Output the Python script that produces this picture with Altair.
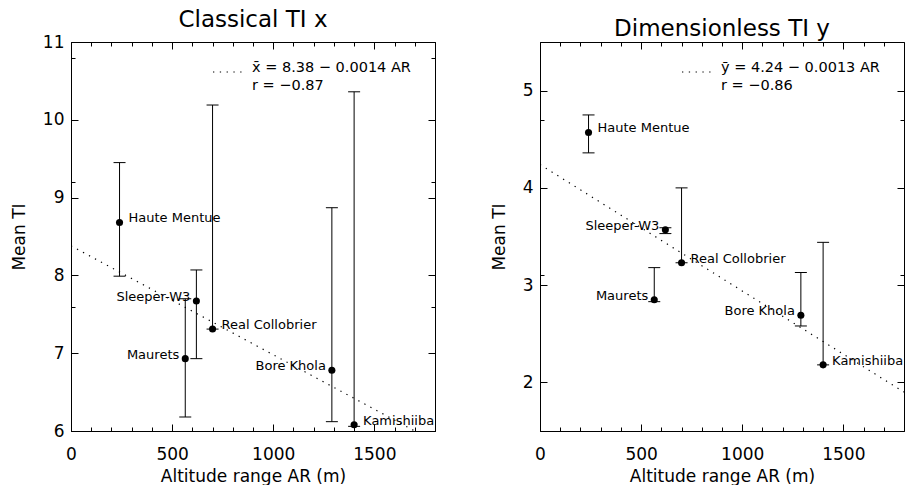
import altair as alt
import pandas as pd

# ---------------- data ----------------
sites = ["Haute Mentue", "Sleeper-W3", "Real Collobrier", "Maurets", "Bore Khola", "Kamishiiba"]
altitude_range = [240, 620, 700, 565, 1290, 1400]
label_side = ["right", "left", "right", "left", "left", "right"]

# Classical TI x : mean with error bar limits
x_mean = [8.68, 7.67, 7.31, 6.93, 6.78, 6.08]
x_low = [7.99, 6.93, 7.31, 6.18, 6.12, 6.06]
x_high = [9.45, 8.07, 10.19, 7.70, 8.87, 10.36]

# Dimensionless TI y : mean with error bar limits
y_mean = [4.57, 3.57, 3.23, 2.85, 2.69, 2.18]
y_low = [4.36, 3.53, 3.23, 2.83, 2.58, 2.18]
y_high = [4.75, 3.59, 4.00, 3.18, 3.13, 3.44]

titles = ["Classical TI x", "Dimensionless TI y"]
fit_intercept = [8.38, 4.24]
fit_slope = [-0.0014, -0.0013]
fit_text = [["x\u0304 = 8.38 \u2212 0.0014 AR", "r = \u22120.87"],
            ["y\u0304 = 4.24 \u2212 0.0013 AR", "r = \u22120.86"]]

x_domain = [0, 1800]
x_major = [0, 500, 1000, 1500]
x_minor_step = 100
y_domains = [[6, 11], [1.5, 5.5]]
y_majors = [[6, 7, 8, 9, 10, 11], [2, 3, 4, 5]]
y_minor_step = [0.1, 0.2]

# ---------------- style ----------------
FONT = "DejaVu Sans"
W, H = 364, 389
MAJ, MIN = 7, 4


def steps(lo, hi, step):
    n = int(round((hi - lo) / step))
    return [round(lo + step * k, 3) for k in range(n + 1)]


def make_axis(orient, values, size, labels=False, title="", pad=7, tpad=8):
    kw = dict(orient=orient, values=values, tickSize=size, offset=-size,
              domain=False, grid=False, ticks=True, labels=labels,
              tickColor="black", tickWidth=1, title=title, zindex=1, format="d")
    if labels:
        kw.update(labelFlush=False, labelPadding=pad, titlePadding=tpad)
    return alt.Axis(**kw)


def panel(i, mean, low, high):
    df = pd.DataFrame({"site": sites, "AR": altitude_range, "side": label_side,
                       "mean": mean, "low": low, "high": high})
    xs = alt.Scale(domain=x_domain, zero=False, nice=False)
    ys = alt.Scale(domain=y_domains[i], zero=False, nice=False)
    x_minor = steps(x_domain[0], x_domain[1], x_minor_step)
    y_minor = steps(y_domains[i][0], y_domains[i][1], y_minor_step[i])
    base = alt.Chart(df)

    pts = base.mark_circle(size=50, color="black", opacity=1).encode(
        x=alt.X("AR:Q", scale=xs,
                axis=make_axis("bottom", x_major, MAJ, True, "Altitude range AR (m)", pad=15, tpad=6)),
        y=alt.Y("mean:Q", scale=ys,
                axis=make_axis("left", y_majors[i], MAJ, True, "Mean TI", pad=7, tpad=14)),
    )
    bars = base.mark_rule(color="black", strokeWidth=1).encode(
        x=alt.X("AR:Q", scale=xs, axis=make_axis("top", x_major, MAJ)),
        y=alt.Y("low:Q", scale=ys, axis=make_axis("right", y_majors[i], MAJ)),
        y2="high:Q",
    )
    caps_hi = base.mark_tick(orient="horizontal", size=12, thickness=1,
                             color="black", opacity=1).encode(
        x=alt.X("AR:Q", scale=xs, axis=make_axis("bottom", x_minor, MIN)),
        y=alt.Y("high:Q", scale=ys, axis=make_axis("left", y_minor, MIN)),
    )
    caps_lo = base.mark_tick(orient="horizontal", size=12, thickness=1,
                             color="black", opacity=1).encode(
        x=alt.X("AR:Q", scale=xs, axis=make_axis("top", x_minor, MIN)),
        y=alt.Y("low:Q", scale=ys, axis=make_axis("right", y_minor, MIN)),
    )
    lab_r = base.transform_filter(alt.datum.side == "right").mark_text(
        align="left", baseline="alphabetic", dx=9, font=FONT, fontSize=13, color="black"
    ).encode(
        x=alt.X("AR:Q", scale=xs, axis=None),
        y=alt.Y("mean:Q", scale=ys, axis=None),
        text="site:N",
    )
    lab_l = base.transform_filter(alt.datum.side == "left").mark_text(
        align="right", baseline="alphabetic", dx=-6, font=FONT, fontSize=13, color="black"
    ).encode(
        x=alt.X("AR:Q", scale=xs, axis=None),
        y=alt.Y("mean:Q", scale=ys, axis=None),
        text="site:N",
    )
    fit_df = pd.DataFrame({"AR": x_domain,
                           "fit": [fit_intercept[i] + fit_slope[i] * v for v in x_domain]})
    fit = alt.Chart(fit_df).mark_line(color="black", strokeDash=[1.3, 5.5],
                                      strokeWidth=1.2, clip=True).encode(
        x=alt.X("AR:Q", scale=xs, axis=None),
        y=alt.Y("fit:Q", scale=ys, axis=None),
    )
    ann_df = pd.DataFrame({"t": ["\n".join(fit_text[i])]})
    seg = alt.Chart(ann_df).mark_rule(color="black", strokeDash=[1.3, 5.5],
                                      strokeWidth=1.2).encode(
        x=alt.value(142), x2=alt.value(175), y=alt.value(30))
    ann = alt.Chart(ann_df).mark_text(
        align="left", baseline="alphabetic", lineBreak="\n", lineHeight=18,
        font=FONT, fontSize=14.5, color="black"
    ).encode(x=alt.value(181), y=alt.value(30), text="t:N")

    return alt.layer(fit, bars, caps_hi, caps_lo, pts, lab_r, lab_l, seg, ann).resolve_axis(
        x="independent", y="independent"
    ).properties(
        width=W, height=H,
        title=alt.TitleParams(titles[i], anchor="middle", offset=1),
    )


left = panel(0, x_mean, x_low, x_high)
right = panel(1, y_mean, y_low, y_high)

chart = alt.hconcat(left, right, spacing=105, bounds="flush").configure_view(
    stroke="black", strokeWidth=1
).configure_axis(
    labelFont=FONT, titleFont=FONT, labelFontSize=17, titleFontSize=17,
    titleFontWeight="normal", labelColor="black", titleColor="black",
).configure_title(
    font=FONT, fontSize=23, fontWeight="normal", color="black",
).properties(
    padding={"left": 9, "top": 8, "right": 0, "bottom": 0}
)

chart.save("out.html", embed_options={"renderer": "svg", "actions": False})
